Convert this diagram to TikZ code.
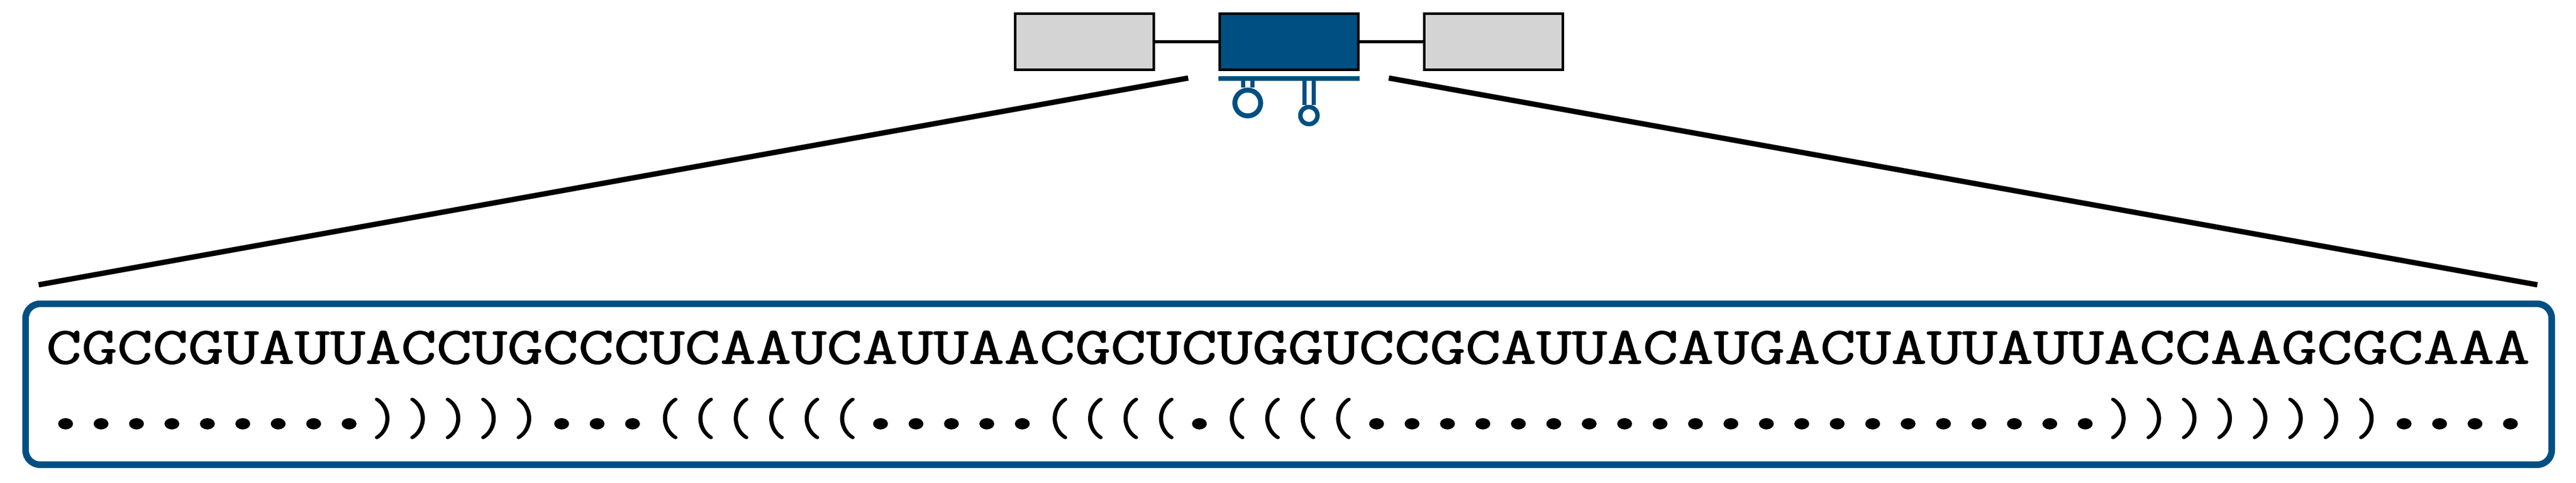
\documentclass[tikz,border=0pt]{standalone}
\usepackage{fontspec}
\usepackage{tikz}
\usetikzlibrary{arrows,positioning}
\newfontfamily\seqfont[FakeBold=1.2]{Latin Modern Mono}
\newfontfamily\dotfont[FakeBold=10]{Latin Modern Mono}
\definecolor{rnablue}{RGB}{0,79,130}
\definecolor{genegray}{RGB}{212,212,212}
\newcommand{\seqtext}{CGCCGUAUUACCUGCCCUCAAUCAUUAACGCUCUGGUCCGCAUUACAUGACUAUUAUUACCAAGCGCAAA}
% fold line: heavier dots, narrower brackets than the font's own
\newcommand{\dt}{\makebox[0.5143em]{\raisebox{0.24cm}{\dotfont .}}}
\newcommand{\lp}{\makebox[0.5143em]{\scalebox{0.78}[1]{\seqfont (}}}
\newcommand{\rp}{\makebox[0.5143em]{\scalebox{0.78}[1]{\seqfont )}}}
\newcommand{\foldtext}{\dt\dt\dt\dt\dt\dt\dt\dt\dt\rp\rp\rp\rp\rp\dt\dt\dt\lp\lp\lp\lp\lp\lp\dt\dt\dt\dt\dt\lp\lp\lp\lp\dt\lp\lp\lp\lp\dt\dt\dt\dt\dt\dt\dt\dt\dt\dt\dt\dt\dt\dt\dt\dt\dt\dt\dt\dt\dt\rp\rp\rp\rp\rp\rp\rp\rp\dt\dt\dt\dt}

\begin{document}
\begin{tikzpicture}[node distance=6.355cm]
\tikzstyle{gene}=[draw=black,line width=0.08cm,fill=genegray,minimum width=4.31cm,minimum height=1.75cm,inner sep=0pt]
\tikzstyle{target}=[gene,fill=rnablue]
\tikzstyle{loopnode}=[circle,draw=rnablue,fill=white,line width=0.135cm,inner sep=0pt]
\tikzstyle{rnabar}=[draw=rnablue,line width=0.15cm]
\tikzstyle{stem}=[draw=rnablue,line width=0.13cm,double=white,double distance=0.16cm]
\tikzstyle{zoomline}=[draw=black,line width=0.165cm]
\tikzstyle{seq}=[font=\fontsize{46.4}{50}\selectfont\ttfamily,xscale=1.312,transform shape,inner sep=0pt]

  \useasboundingbox (0,0) rectangle (80,15);

  \node[gene]   (0) at (33.675,13.70) {};
  \node[target] (1) [right of=0]      {};
  \node[gene]   (2) [right of=1]      {};

  \draw[line width=0.09cm] (0) -- (1);
  \draw[line width=0.09cm] (1) -- (2);

  \coordinate (barl) at (37.84,12.555);
  \coordinate (barr) at (42.23,12.555);
  \coordinate (stema) at (38.75,12.48);
  \coordinate (stemb) at (40.65,12.48);
  \node[loopnode,line width=0.15cm,minimum size=0.80cm] (loopa) at (38.75,11.80) {};
  \node[loopnode,minimum size=0.53cm] (loopb) at (40.65,11.41) {};

  \draw[stem] (stema) -- (loopa.north);
  \draw[stem] (stemb) -- (loopb.north);
  \node[loopnode,line width=0.15cm,minimum size=0.80cm] at (loopa) {};
  \node[loopnode,minimum size=0.53cm] at (loopb) {};
  \draw[rnabar] (barl) -- (barr);

  \node[draw=rnablue,line width=0.205cm,rounded corners=0.45cm,minimum width=78.45cm,minimum height=5cm,inner sep=0pt] (panel) at (40.02,3.06) {};

  \node[seq,anchor=base] (seqline) at (40,3.70) {\seqfont\seqtext};
  \node[seq,anchor=base] (foldline) at (40,1.50) {\foldtext};

  \coordinate (leftend) at (1.20,6.15);
  \coordinate (rightend) at (78.80,6.15);
  \coordinate (lefttop) at (36.90,12.575);
  \coordinate (righttop) at (43.13,12.575);
  \draw[zoomline] (lefttop) -- (leftend);
  \draw[zoomline] (righttop) -- (rightend);
\end{tikzpicture}
\end{document}
